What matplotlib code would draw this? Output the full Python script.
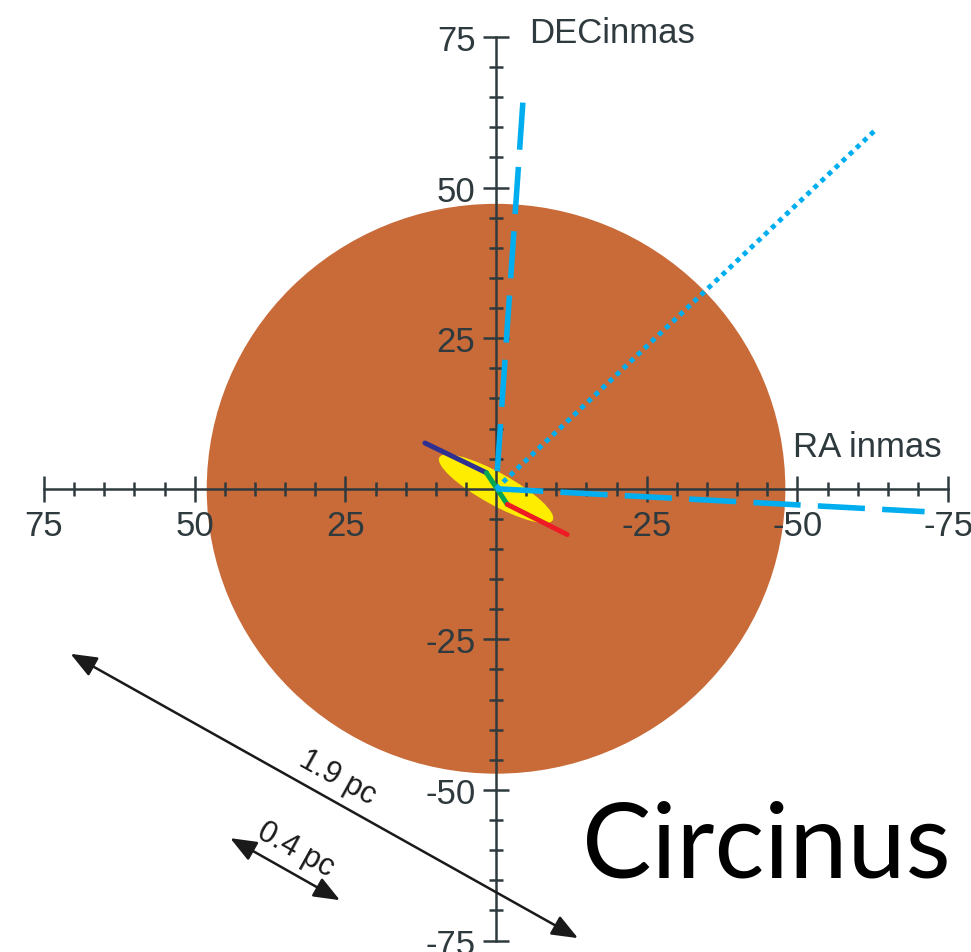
import matplotlib.pyplot as plt
from matplotlib.patches import Ellipse
from matplotlib.ticker import FixedLocator

# values (mas)
major_ticks = [-75, -50, -25, 25, 50, 75]
minor_ticks = [v for v in range(-75, 80, 5) if v % 25 != 0]
tick_labels = ['-75', '-50', '-25', '25', '50', '75']

torus_radius = (48.0, 47.3)          # big brown disk (x, y half-axes)
disk_size = (21.5, 5.3)              # yellow maser disk
disk_angle = 29.0

jet_dash_v = ([-4.45, 0.0], [64.1, 0.0])
jet_dash_h = ([0.0, -71.1], [0.0, -3.8])
jet_dot = ([0.0, -63.2], [0.0, 59.8])
blue_seg = ([11.8, 1.6], [7.6, 2.66])
green_seg = ([1.6, -1.87], [2.66, -2.6])
red_seg = ([-1.87, -11.8], [-2.6, -7.6])

long_arrow = ((70.6, -27.4), (-13.6, -74.6))
short_arrow = ((44.1, -58.0), (25.9, -68.3))

axcol = '#2E3A3E'
cyan = '#00AEEF'

fig = plt.figure(figsize=(9.71, 9.53), dpi=100)
ax = fig.add_axes([0, 0, 1, 1])
ax.set_xlim(82.3, -78.8)
ax.set_ylim(-76.9, 81.3)

ax.add_patch(Ellipse((0, 0), 2*torus_radius[0], 2*torus_radius[1], color='#C86B39', lw=0, zorder=1))
ax.add_patch(Ellipse((0, 0), disk_size[0], disk_size[1], angle=disk_angle, color='#FFED00', lw=0, zorder=1.2))

# axes through the origin
for s in ['top', 'right']:
    ax.spines[s].set_visible(False)
ax.spines['left'].set_position(('data', 0))
ax.spines['bottom'].set_position(('data', 0))
ax.spines['left'].set_bounds(-75, 75)
ax.spines['bottom'].set_bounds(-75, 75)
for s in ['left', 'bottom']:
    ax.spines[s].set_color(axcol)
    ax.spines[s].set_linewidth(1.8)

for a in [ax.xaxis, ax.yaxis]:
    a.set_major_locator(FixedLocator(major_ticks))
    a.set_minor_locator(FixedLocator(minor_ticks))
ax.set_xticklabels(tick_labels)
ax.set_yticklabels(tick_labels)
ax.tick_params(which='both', direction='inout', color=axcol, width=1.8,
               labelcolor=axcol, labelsize=25)
ax.tick_params(which='major', length=18.7, pad=5.5)
ax.tick_params(which='minor', length=9.4)
for lab in ax.get_xticklabels() + ax.get_yticklabels():
    lab.set_family('Liberation Sans')

ax.text(-5.5, 75.8, 'DECinmas', fontsize=25, color=axcol, family='Liberation Sans',
        ha='left', va='center')
ax.text(-49.3, 7.0, 'RA inmas', fontsize=25, color=axcol, family='Liberation Sans',
        ha='left', va='center')

# jets / disk structure
ax.plot(*jet_dash_v, color=cyan, lw=4, linestyle=(0, (8.5, 3.1)), zorder=4)
ax.plot(*jet_dash_h, color=cyan, lw=4, linestyle=(0, (8.5, 3.1)), zorder=4)
ax.plot(*jet_dot, color=cyan, lw=3.5, linestyle=(0, (1, 1.0)), zorder=4)
ax.plot(*blue_seg, color='#2E3192', lw=3.6, solid_capstyle='round', zorder=3)
ax.plot(*green_seg, color='#00A651', lw=3.6, solid_capstyle='round', zorder=3)
ax.plot(*red_seg, color='#ED1C24', lw=3.6, solid_capstyle='round', zorder=3)

# scale arrows
for (p0, p1) in [long_arrow, short_arrow]:
    ax.annotate('', xy=p1, xytext=p0,
                arrowprops=dict(arrowstyle='<|-|>,head_length=0.8,head_width=0.32',
                                mutation_scale=20, lw=1.8, color='#1A1A1A',
                                shrinkA=0, shrinkB=0), zorder=5)
ax.text(26.3, -47.9, '1.9 pc', rotation=-29, rotation_mode='anchor', ha='center', va='center',
        fontsize=22, family='Liberation Sans', color='#1A1A1A')
ax.text(33.3, -59.8, '0.4 pc', rotation=-29, rotation_mode='anchor', ha='center', va='center',
        fontsize=22, family='Liberation Sans', color='#1A1A1A')

ax.text(-14.3, -64.3, 'Circinus', fontsize=75, family='Lato', color='black',
        ha='left', va='baseline')

fig.savefig('out.png', dpi=100)
